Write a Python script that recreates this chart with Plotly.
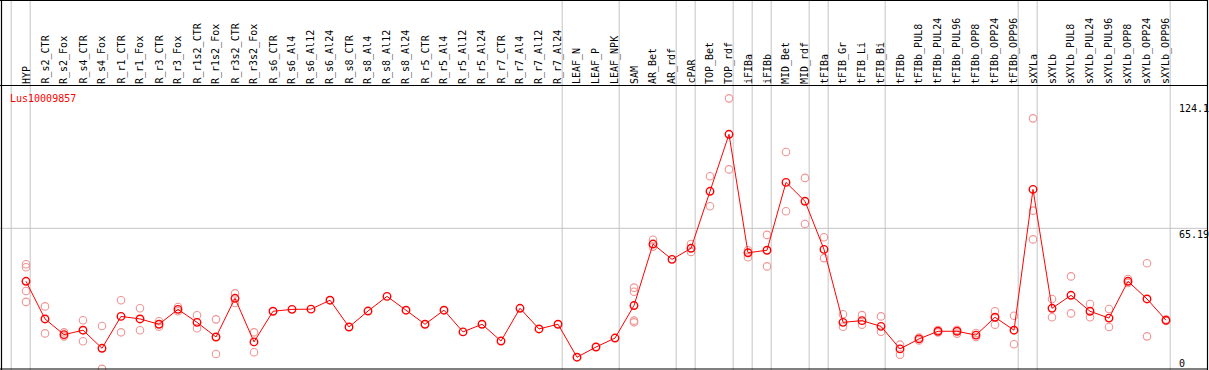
import plotly.graph_objects as go

# ---------------- data ----------------
categories = [
    "HYP", "R_s2_CTR", "R_s2_Fox", "R_s4_CTR", "R_s4_Fox", "R_r1_CTR", "R_r1_Fox",
    "R_r3_CTR", "R_r3_Fox", "R_r1s2_CTR", "R_r1s2_Fox", "R_r3s2_CTR", "R_r3s2_Fox",
    "R_s6_CTR", "R_s6_Al4", "R_s6_Al12", "R_s6_Al24", "R_s8_CTR", "R_s8_Al4",
    "R_s8_Al12", "R_s8_Al24", "R_r5_CTR", "R_r5_Al4", "R_r5_Al12", "R_r5_Al24",
    "R_r7_CTR", "R_r7_Al4", "R_r7_Al12", "R_r7_Al24", "LEAF_N", "LEAF_P", "LEAF_NPK",
    "SAM", "AR_Bet", "AR_rdf", "cPAR", "TOP_Bet", "TOP_rdf", "iFIBa", "iFIBb",
    "MID_Bet", "MID_rdf", "tFIBa", "tFIB_Gr", "tFIB_Li", "tFIB_Bi", "tFIBb",
    "tFIBb_PUL8", "tFIBb_PUL24", "tFIBb_PUL96", "tFIBb_OPP8", "tFIBb_OPP24",
    "tFIBb_OPP96", "sXYLa", "sXYLb", "sXYLb_PUL8", "sXYLb_PUL24", "sXYLb_PUL96",
    "sXYLb_OPP8", "sXYLb_OPP24", "sXYLb_OPP96",
]

mean_values = [
    40.3, 22.6, 15.2, 17.3, 8.8, 23.8, 22.6, 20.1, 27.1, 21.0, 14.1, 32.3, 11.8,
    26.2, 27.1, 27.2, 31.4, 18.8, 26.3, 33.2, 26.7, 20.1, 26.7, 16.5, 20.1,
    12.2, 27.6, 17.9, 20.1, 4.6, 9.4, 13.6,
    28.9, 57.8, 50.6, 55.8, 82.6, 109.4, 53.7, 54.9,
    86.8, 77.9, 55.3, 21.0, 21.8, 19.1, 8.5,
    13.2, 16.8, 16.8, 15.0, 23.4, 17.3,
    83.5, 27.6, 33.7, 26.2, 23.0, 40.3, 32.0, 22.0,
]

replicate_values = [
    [48.3, 46.9, 35.7, 30.6], [28.5, 15.8], [16.3, 14.4], [22.0, 12.1], [19.3, -0.9],
    [31.4, 16.3], [27.6, 17.3], [21.5, 18.9], [28.2, 26.2], [24.3, 18.2], [22.4, 6.1],
    [34.6, 30.1], [16.3, 6.9],
    [], [], [], [], [], [], [], [], [], [], [], [], [], [], [], [], [], [], [],
    [37.3, 35.4, 21.8, 21.0], [59.8, 56.6], [], [57.8, 54.1], [89.7, 75.6],
    [126.3, 92.9], [54.9, 51.6], [62.1, 47.3], [101.1, 73.2], [88.9, 67.2],
    [61.0, 51.2], [24.8, 18.9], [24.4, 19.9], [23.8, 16.6], [10.5, 5.8],
    [13.9, 12.5], [17.4, 16.2], [17.5, 15.7], [16.0, 14.1], [26.2, 19.9], [24.1, 10.7],
    [116.9, 73.5, 60.0], [32.0, 23.4], [42.6, 25.2], [29.6, 23.4], [27.3, 18.8],
    [41.4, 39.5], [48.8, 14.4], [22.3, 21.6],
]

gene_name = "Lus10009857"
scale_labels = ["124.1", "65.19", "0"]
scale_values = [124.1, 65.19, 0.0]
gridline_value = 65.19
# separators drawn after these categories (None = before the first category)
separator_after = [None, "HYP", "R_r7_Al24", "LEAF_NPK", "AR_rdf", "cPAR", "TOP_rdf",
                   "iFIBa", "iFIBb", "MID_rdf", "tFIBa", "tFIB_Bi", "tFIBb_OPP96",
                   "sXYLa", "sXYLb_OPP96"]

# ---------------- layout geometry ----------------
W, H = 1209, 370
X0_PX, STEP_PX = 26.0, 19.0          # pixel of first category, spacing
ZERO_PX, PX_PER_UNIT = 367.0, 2.127  # pixel of value 0, pixels per unit
HEADER_PX = 85.5
FONT = "DejaVu Sans Mono"

xr = [-X0_PX / STEP_PX, (W - X0_PX) / STEP_PX]
yr = [-(H - ZERO_PX) / PX_PER_UNIT, ZERO_PX / PX_PER_UNIT]

def px_x(p):
    return p / W

def px_y(p):
    return 1 - p / H

idx = list(range(len(categories)))
rep_x, rep_y = [], []
for i, reps in enumerate(replicate_values):
    for v in reps:
        rep_x.append(i)
        rep_y.append(v)

fig = go.Figure()
fig.add_trace(go.Scatter(
    x=rep_x, y=rep_y, mode="markers",
    marker=dict(symbol="circle-open", size=7.5, color="#f09494", line=dict(width=1.1, color="#f09494")),
    hoverinfo="skip", showlegend=False,
))
fig.add_trace(go.Scatter(
    x=idx, y=mean_values, mode="lines+markers",
    line=dict(color="#ff0000", width=1),
    marker=dict(symbol="circle-open", size=7.5, color="#ff0000", line=dict(width=1.4, color="#ff0000")),
    hoverinfo="skip", showlegend=False,
))

shapes = []
grey = "#c4c4c4"
for name in separator_after:
    pos = (-1 if name is None else categories.index(name)) + 0.22
    shapes.append(dict(type="line", xref="x", yref="paper", x0=pos, x1=pos, y0=0, y1=1,
                       line=dict(color=grey, width=1), layer="below"))
shapes.append(dict(type="line", xref="paper", yref="y", x0=0, x1=px_x(1207.5),
                   y0=gridline_value, y1=gridline_value,
                   line=dict(color=grey, width=1), layer="below"))
black = "#000000"
for (x0, y0, x1, y1) in [(0, 0.5, 1207.5, 0.5), (0, HEADER_PX, 1207.5, HEADER_PX),
                         (0, 369.0, 1207.5, 369.0), (1.5, 0, 1.5, 370),
                         (1207.5, 0, 1207.5, 370)]:
    shapes.append(dict(type="line", xref="paper", yref="paper",
                       x0=px_x(x0), x1=px_x(x1), y0=px_y(y0), y1=px_y(y1),
                       line=dict(color=black, width=1.2)))

annotations = []
for i, c in enumerate(categories):
    annotations.append(dict(
        x=i, xref="x", y=px_y(HEADER_PX - 0.5), yref="paper", text=c, textangle=-90,
        showarrow=False, xanchor="center", yanchor="bottom", borderpad=0,
        font=dict(family=FONT, size=10, color="#000000"),
    ))
annotations.append(dict(
    x=px_x(8.5), xref="paper", y=px_y(91.5), yref="paper", text=gene_name,
    showarrow=False, xanchor="left", yanchor="top", borderpad=0,
    font=dict(family=FONT, size=10, color="#ff0000"),
))
label_tops = {"124.1": 102.0, "65.19": 227.5, "0": 356.5}
for lab in scale_labels:
    annotations.append(dict(
        x=px_x(1177.5), xref="paper", y=px_y(label_tops[lab]), yref="paper", text=lab,
        showarrow=False, xanchor="left", yanchor="top", borderpad=0,
        font=dict(family=FONT, size=10, color="#000000"),
    ))

fig.update_layout(
    width=W, height=H, margin=dict(l=0, r=0, t=0, b=0, pad=0),
    paper_bgcolor="#ffffff", plot_bgcolor="#ffffff",
    xaxis=dict(range=xr, visible=False, fixedrange=True),
    yaxis=dict(range=yr, visible=False, fixedrange=True),
    shapes=shapes, annotations=annotations, showlegend=False,
)

fig.write_html("out.html", config={"displayModeBar": False},
               post_script="document.body.style.margin='0';document.body.style.overflow='hidden';")
